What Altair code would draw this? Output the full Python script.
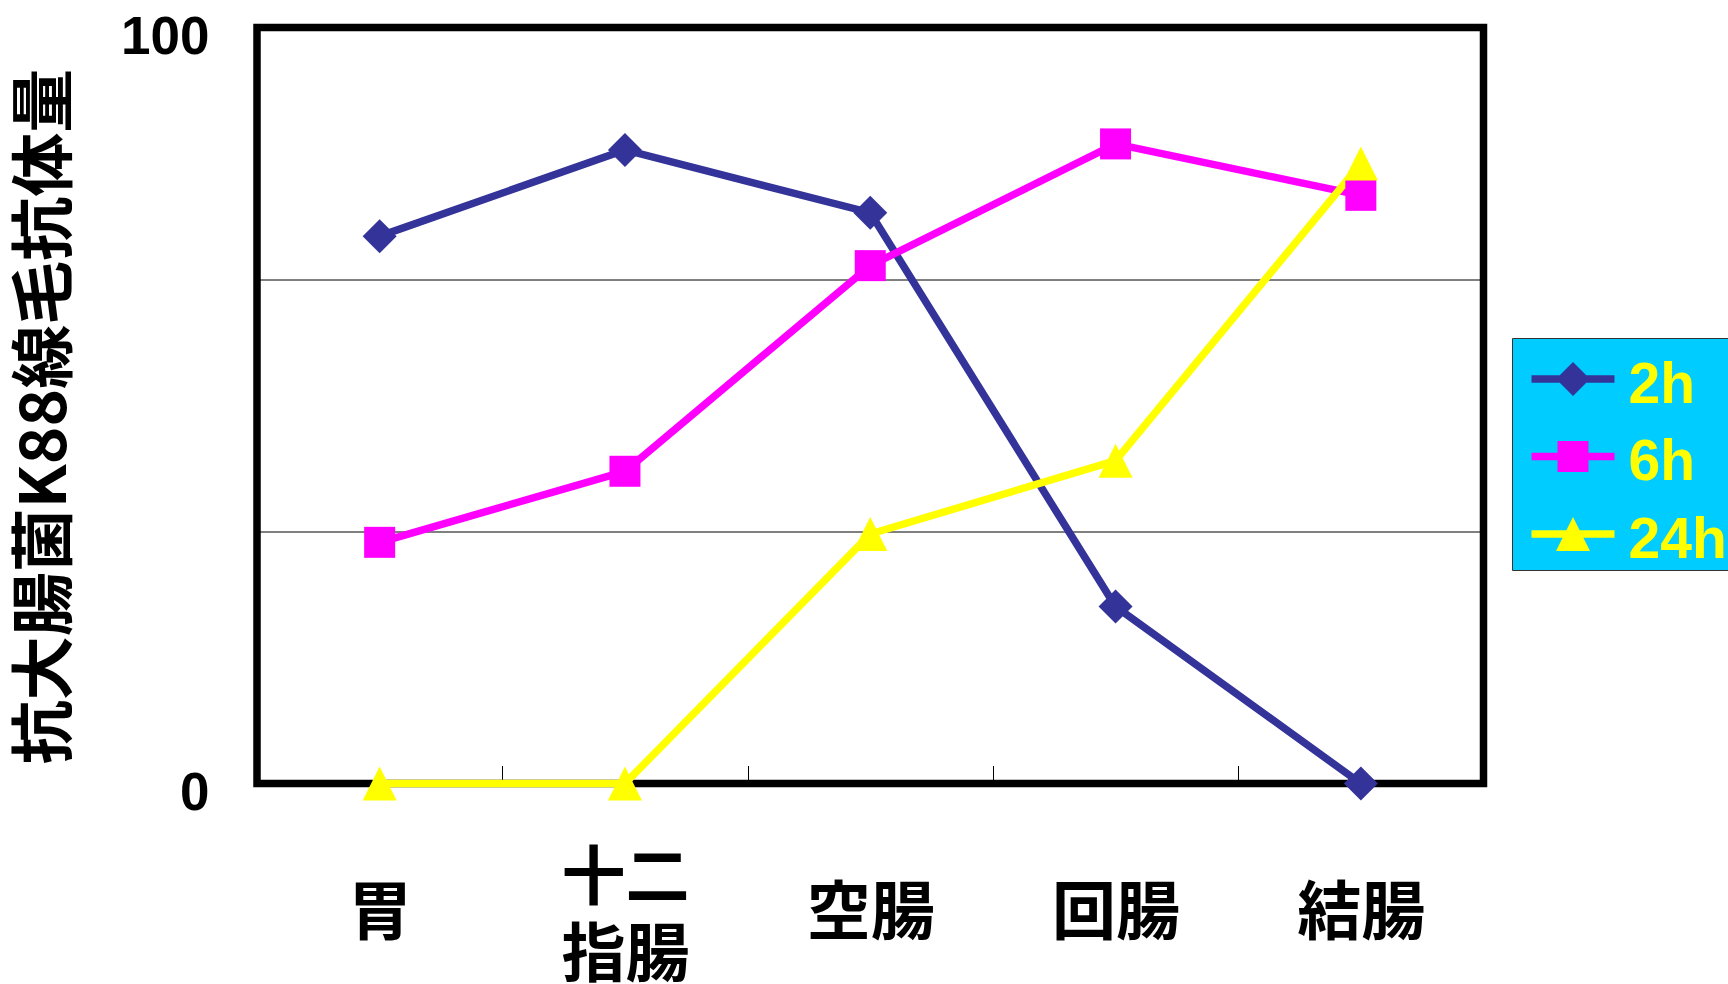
import altair as alt
import pandas as pd

# ---- data ----
categories = ["胃", "十二指腸", "空腸", "回腸", "結腸"]
series_names = ["2h", "6h", "24h"]
values_2h = [72.4, 83.8, 75.5, 23.4, 0.0]
values_6h = [31.9, 41.3, 68.5, 84.6, 77.8]
values_24h = [0.0, 0.0, 33.0, 42.7, 82.0]
y_tick_values = [0, 100 / 3, 200 / 3, 100]
y_title = "抗大腸菌K88線毛抗体量"

# ---- styles ----
colors = ["#333399", "#FF00FF", "#FFFF00"]
plot_shapes = ["diamond", "square", "M0,-1 L1,1 L-1,1 Z"]
plot_sizes = [1156, 961, 1156]
# legend symbols: line segment + marker (unit = 17px), raised a little above label centre
bar = "M-2.44,-0.6 L2.44,-0.6 L2.44,-0.16 L-2.44,-0.16 Z "
legend_shapes = [
    bar + "M0,-1.38 L1,-0.38 L0,0.62 L-1,-0.38 Z",
    bar + "M-0.91,-1.29 L0.91,-1.29 L0.91,0.53 L-0.91,0.53 Z",
    bar + "M0,-1.38 L1,0.62 L-1,0.62 Z",
]

rows = []
for name, vals in zip(series_names, [values_2h, values_6h, values_24h]):
    for c, v in zip(categories, vals):
        rows.append({"series": name, "cat": c, "value": v})
df = pd.DataFrame(rows)

x_enc = alt.X(
    "cat:N",
    sort=categories,
    scale=alt.Scale(type="band", domain=categories, paddingInner=0, paddingOuter=0),
    axis=alt.Axis(
        title=None,
        tickBand="extent",
        offset=-18,
        tickSize=18,
        tickColor="black",
        tickWidth=1,
        domain=False,
        grid=False,
        labelAngle=0,
        labelFont="Noto Sans CJK JP",
        labelFontWeight="bold",
        labelFontSize=64,
        labelColor="black",
        labelPadding={"condition": {"test": "datum.value == '十二指腸'", "value": 95.5}, "value": 130.5},
        labelBaseline="middle",
        labelLineHeight=77,
        labelOverlap=False,
        labelFlush=False,
        labelExpr="datum.value == '十二指腸' ? ['十二', '指腸'] : datum.label",
    ),
)

y_enc = alt.Y(
    "value:Q",
    scale=alt.Scale(domain=[0, 100], nice=False, zero=True),
    axis=alt.Axis(
        values=y_tick_values,
        format="d",
        labelExpr="datum.value == 0 || datum.value == 100 ? datum.label : ''",
        grid=True,
        gridColor="black",
        gridWidth=1,
        gridOpacity=1,
        ticks=False,
        tickSize=0,
        domain=False,
        labelFont="Liberation Sans",
        labelFontWeight="bold",
        labelFontSize=53,
        labelColor="black",
        labelPadding=48,
        labelOffset=10,
        labelOverlap=False,
        title=y_title,
        titleFont="Noto Sans CJK JP",
        titleFontWeight="bold",
        titleFontSize=64,
        titleColor="black",
        titleX=-211,
        titleY=388.5,
        titleAngle=270,
        titleAlign="center",
        titleBaseline="middle",
    ),
)

base = alt.Chart(df)
layers = []
for name, col in zip(series_names, colors):
    sub = base.transform_filter(alt.datum.series == name)
    layers.append(sub.mark_line(color=col, strokeWidth=7.5).encode(x=x_enc, y=y_enc))
for name, col, shp, sz in zip(series_names, colors, plot_shapes, plot_sizes):
    sub = base.transform_filter(alt.datum.series == name)
    layers.append(
        sub.mark_point(shape=shp, filled=True, color=col, size=sz, opacity=1, strokeWidth=0).encode(x=x_enc, y=y_enc)
    )

legend_props = dict(
    title="\u00a0",
    titleFontSize=12,
    titlePadding=6,
    orient="none",
    legendX=1255,
    legendY=310.5,
    fillColor="#00CCFF",
    strokeColor="#333333",
    padding=1,
    labelFont="Liberation Sans",
    labelFontWeight="bold",
    labelFontSize=57,
    labelColor="#FFFF00",
    labelOffset=27,
    symbolOffset=31.5,
    rowPadding=19.5,
    symbolSize=1156,
    symbolStrokeWidth=0,
    symbolOpacity=1,
)

legend_layer = (
    base.transform_filter("false")
    .mark_point(filled=True, opacity=1)
    .encode(
        color=alt.Color(
            "series:N",
            scale=alt.Scale(domain=series_names, range=colors),
            legend=alt.Legend(**legend_props),
        ),
        shape=alt.Shape(
            "series:N",
            scale=alt.Scale(domain=series_names, range=legend_shapes),
            legend=alt.Legend(**legend_props),
        ),
    )
)
layers.append(legend_layer)

chart = (
    alt.layer(*layers)
    .properties(
        width=1226.5,
        height=756,
        background="white",
        autosize=alt.AutoSizeParams(type="none"),
        padding={"left": 257, "top": 27.5, "right": 244.5, "bottom": 200.5},
    )
    .configure_view(fill="#00CCFF", stroke="black", strokeWidth=7.5)
)

chart.save("out.html", embed_options={"renderer": "svg", "actions": False})
